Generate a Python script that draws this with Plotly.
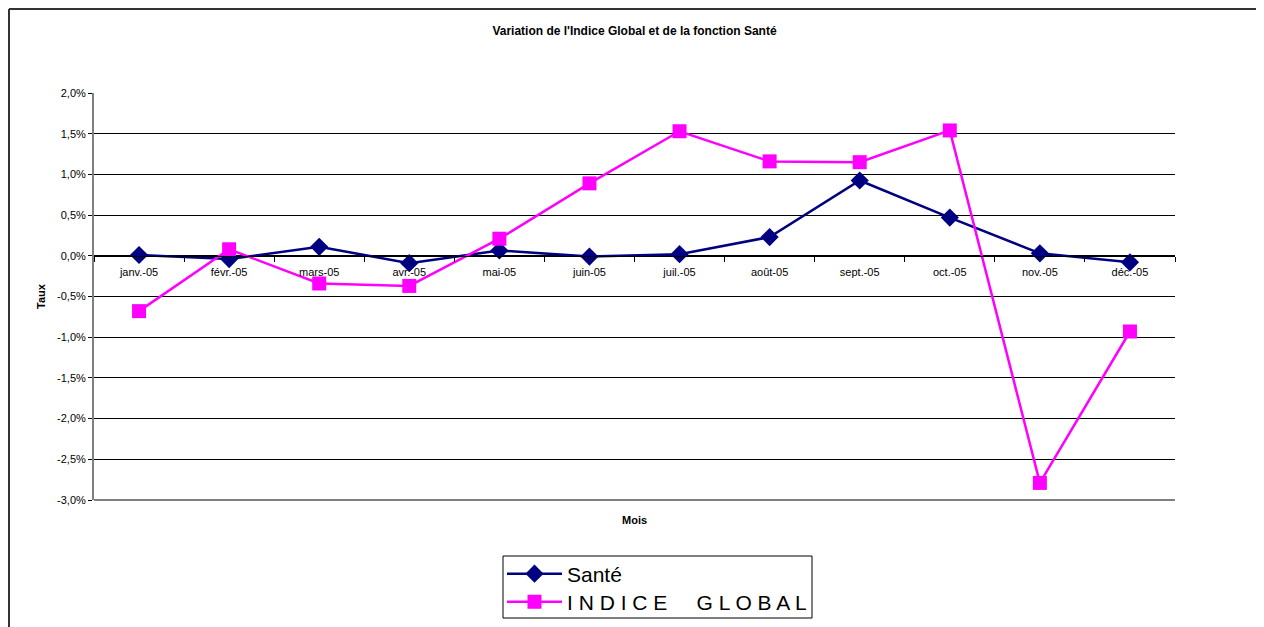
import plotly.graph_objects as go

months = ["janv.-05", "févr.-05", "mars-05", "avr.-05", "mai-05", "juin-05",
          "juil.-05", "août-05", "sept.-05", "oct.-05", "nov.-05", "déc.-05"]
sante = [0.01, -0.04, 0.11, -0.09, 0.065, -0.01, 0.02, 0.23, 0.925, 0.47, 0.03, -0.08]
indice_global = [-0.68, 0.08, -0.34, -0.37, 0.21, 0.89, 1.53, 1.16, 1.15, 1.54, -2.79, -0.93]
y_ticks = [2.0, 1.5, 1.0, 0.5, 0.0, -0.5, -1.0, -1.5, -2.0, -2.5, -3.0]
y_tick_labels = ["2,0%", "1,5%", "1,0%", "0,5%", "0,0%", "-0,5%", "-1,0%",
                 "-1,5%", "-2,0%", "-2,5%", "-3,0%"]

FONT = "Arial, Liberation Sans, sans-serif"

fig = go.Figure()
fig.add_trace(go.Scatter(
    x=months, y=sante, name="Santé", mode="lines+markers",
    line=dict(color="#000080", width=2.5),
    marker=dict(symbol="diamond", size=14, color="#000080"),
    legend="legend",
))
fig.add_trace(go.Scatter(
    x=months, y=indice_global, name="I N D I C E     G L O B A L", mode="lines+markers",
    line=dict(color="#FF00FF", width=2.5),
    marker=dict(symbol="square", size=14, color="#FF00FF"),
    legend="legend2",
))

# page body has an 8px margin; work in page pixels and convert
OFF = 8
W, H = 1264 - OFF, 627 - OFF
plot_left, plot_top, plot_right, plot_bottom = 94, 93, 1175, 500
L = plot_left - OFF
T = plot_top - OFF
R = W - (plot_right - OFF)
B = H - (plot_bottom - OFF)
pw = W - L - R
ph = H - T - B
ymin, ymax = -3.0, 2.0
zero_pos = (0 - ymin) / (ymax - ymin)


def px_x(page_x):
    return (page_x - OFF - L) / pw


def px_y(page_y):
    return (H - B - (page_y - OFF)) / ph


legend_style = dict(
    xanchor="left", yanchor="middle", borderwidth=0, bgcolor="rgba(0,0,0,0)",
    font=dict(size=21, family=FONT, color="black"), itemwidth=55,
)

fig.update_layout(
    width=W, height=H,
    margin=dict(l=L, r=R, t=T, b=B, pad=0, autoexpand=False),
    paper_bgcolor="white", plot_bgcolor="white",
    font=dict(family=FONT, color="black", size=11),
    title=dict(text="<b>Variation de l'Indice Global et de la fonction Santé</b>",
               x=0.5, xanchor="center", xref="paper", y=1 - (31 - OFF) / H, yanchor="middle",
               font=dict(size=12, family=FONT, color="black")),
    xaxis=dict(
        type="category", categoryorder="array", categoryarray=months,
        anchor="free", position=zero_pos, automargin=False,
        showline=True, linecolor="black", linewidth=1,
        ticks="outside", ticklen=5, tickcolor="black", tickwidth=1,
        tickson="boundaries", showgrid=False, ticklabelstandoff=6,
        tickfont=dict(size=11, family=FONT, color="black"),
        range=[-0.5, len(months) - 0.5],
    ),
    yaxis=dict(
        range=[ymin, ymax], tickmode="array", tickvals=y_ticks, ticktext=y_tick_labels,
        automargin=False,
        showgrid=True, gridcolor="black", gridwidth=1,
        zeroline=True, zerolinecolor="black", zerolinewidth=1,
        showline=True, linecolor="#808080", linewidth=2,
        ticks="outside", ticklen=4, tickcolor="black",
        tickfont=dict(size=11, family=FONT, color="black"),
        title=dict(text="<b>Taux</b>", font=dict(size=11, family=FONT, color="black"), standoff=9),
    ),
    legend=dict(x=px_x(502), y=px_y(574), **legend_style),
    legend2=dict(x=px_x(502), y=px_y(602), **legend_style),
    showlegend=True,
)

fig.add_annotation(text="<b>Mois</b>", xref="paper", yref="paper",
                   x=0.5, y=px_y(520), xanchor="center", yanchor="middle",
                   showarrow=False, font=dict(size=11, family=FONT, color="black"))

# legend box
fig.add_shape(type="rect", xref="paper", yref="paper",
              x0=px_x(503), x1=px_x(812), y0=px_y(618), y1=px_y(556),
              line=dict(color="black", width=1), fillcolor="rgba(0,0,0,0)", layer="below")
# bottom plot-area border
fig.add_shape(type="line", xref="paper", yref="paper", x0=0, x1=1, y0=0, y1=0,
              line=dict(color="#808080", width=2))
# outer chart frame (left and top edges)
fx0 = px_x(OFF + 1)
fy_top = px_y(OFF + 1)
fy_bot = px_y(640)
fx1 = px_x(1280)
fig.add_shape(type="line", xref="paper", yref="paper", x0=fx0, x1=fx0, y0=fy_bot, y1=fy_top,
              line=dict(color="#333333", width=2))
fig.add_shape(type="line", xref="paper", yref="paper", x0=fx0, x1=fx1, y0=fy_top, y1=fy_top,
              line=dict(color="#333333", width=2))

fig.write_html("out.html")
